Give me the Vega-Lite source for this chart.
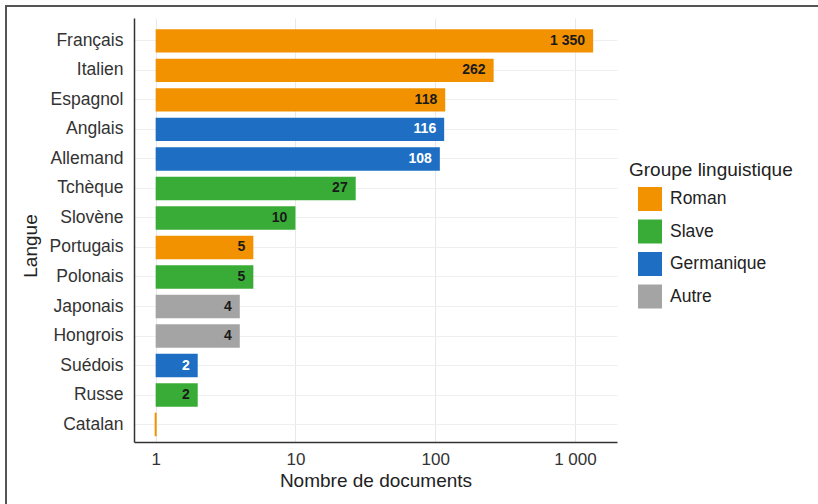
{
  "$schema": "https://vega.github.io/schema/vega-lite/v6.json",
  "autosize": {"type": "none"},
  "padding": {"left": 6, "top": 6, "right": -18, "bottom": -12},
  "width": 830,
  "height": 510,
  "background": "white",
  "config": {
    "locale": {"number": {"decimal": ",", "thousands": " ", "grouping": [3], "currency": ["", " €"]}},
    "view": {"stroke": "#555555", "strokeWidth": 2},
    "font": "Liberation Sans"
  },
  "data": {
    "values": [
      {"langue": "Français", "n": 1350, "groupe": "Roman"},
      {"langue": "Italien", "n": 262, "groupe": "Roman"},
      {"langue": "Espagnol", "n": 118, "groupe": "Roman"},
      {"langue": "Anglais", "n": 116, "groupe": "Germanique"},
      {"langue": "Allemand", "n": 108, "groupe": "Germanique"},
      {"langue": "Tchèque", "n": 27, "groupe": "Slave"},
      {"langue": "Slovène", "n": 10, "groupe": "Slave"},
      {"langue": "Portugais", "n": 5, "groupe": "Roman"},
      {"langue": "Polonais", "n": 5, "groupe": "Slave"},
      {"langue": "Japonais", "n": 4, "groupe": "Autre"},
      {"langue": "Hongrois", "n": 4, "groupe": "Autre"},
      {"langue": "Suédois", "n": 2, "groupe": "Germanique"},
      {"langue": "Russe", "n": 2, "groupe": "Slave"},
      {"langue": "Catalan", "n": 1, "groupe": "Roman"}
    ]
  },
  "resolve": {"axis": {"x": "independent"}},
  "encoding": {
    "y": {
      "field": "langue",
      "type": "nominal",
      "sort": null,
      "scale": {"range": [12, 436], "paddingInner": 0.21, "paddingOuter": 0.29, "align": 0.66},
      "axis": {
        "title": "Langue",
        "offset": -128,
        "ticks": false,
        "labelPadding": 11,
        "labelFontSize": 17.5,
        "labelColor": "#333333",
        "domainColor": "#333333",
        "domainWidth": 1.5,
        "grid": true,
        "gridColor": "#efefef",
        "bandPosition": 0.5,
        "titleFontSize": 19,
        "titleFontWeight": "normal",
        "titleColor": "#222222",
        "titleX": -104,
        "titleY": 239.5,
        "titleBaseline": "middle",
        "titleAlign": "center"
      }
    }
  },
  "layer": [
    {
      "mark": {"type": "bar", "strokeWidth": 2},
      "encoding": {
        "x": {
          "field": "n",
          "type": "quantitative",
          "scale": {"type": "log", "domain": [0.7, 2000], "range": [128, 611]},
          "axis": {
            "title": "Nombre de documents",
            "values": [1, 10, 100, 1000],
            "format": ",",
            "offset": -74,
            "ticks": false,
            "labelPadding": 9,
            "labelFontSize": 17,
            "labelColor": "#333333",
            "domainColor": "#333333",
            "domainWidth": 1.5,
            "grid": false,
            "titleFontSize": 19,
            "titleFontWeight": "normal",
            "titleColor": "#222222",
            "titleBaseline": "alphabetic",
            "titleY": 44
          }
        },
        "x2": {"datum": 1},
        "color": {
          "field": "groupe",
          "type": "nominal",
          "scale": {"domain": ["Roman", "Slave", "Germanique", "Autre"], "range": ["#F29200", "#38AC36", "#1E6FC4", "#A4A4A4"]},
          "legend": {
            "title": "Groupe linguistique",
            "orient": "none",
            "legendX": 623,
            "legendY": 155,
            "titleFontSize": 19,
            "titleFontWeight": "normal",
            "titleColor": "#222222",
            "titlePadding": 7,
            "labelFontSize": 17.5,
            "labelColor": "#222222",
            "labelOffset": 8,
            "symbolType": "square",
            "symbolSize": 576,
            "symbolStrokeWidth": 0,
            "symbolOpacity": 1,
            "symbolOffset": 9,
            "rowPadding": 8.5
          }
        },
        "stroke": {"condition": {"test": "datum.n <= 1", "value": "#F29200"}, "value": null}
      }
    },
    {
      "transform": [{"filter": "datum.n > 1"}],
      "mark": {"type": "text", "align": "right", "baseline": "middle", "dx": -8, "fontWeight": "bold", "fontSize": 14},
      "encoding": {
        "x": {
          "field": "n",
          "type": "quantitative",
          "scale": {"type": "log", "domain": [0.7, 2000], "range": [128, 611]},
          "axis": {
            "orient": "top",
            "values": [1, 10, 100, 1000],
            "grid": true,
            "gridColor": "#e8e8e8",
            "labels": false,
            "ticks": false,
            "domain": false,
            "title": null
          }
        },
        "text": {"field": "n", "type": "quantitative", "format": ","},
        "color": {"condition": {"test": "datum.groupe === 'Germanique'", "value": "white"}, "value": "#1a1a1a"}
      }
    }
  ]
}
